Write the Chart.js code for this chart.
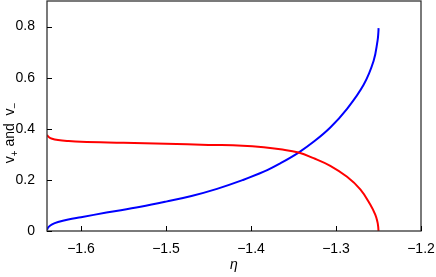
<!DOCTYPE html>
<html>
<head>
<meta charset="utf-8">
<script src="https://cdn.jsdelivr.net/npm/chart.js@4.4.1/dist/chart.umd.min.js"></script>
<style>
  html, body { margin: 0; padding: 0; background: #fff; }
  #wrap { width: 436px; height: 277px; }
</style>
</head>
<body>
<div id="wrap"><canvas id="chart" width="436" height="277"></canvas></div>
<script>
// data
const etaBlue = [-1.64, -1.638, -1.634, -1.627, -1.615, -1.6, -1.57, -1.53, -1.5, -1.47, -1.44, -1.41,
  -1.385, -1.3655, -1.344, -1.326, -1.3067, -1.287, -1.2675, -1.2558, -1.2511, -1.2502, -1.2499];
const vBlue = [0.005, 0.016, 0.026, 0.035, 0.045, 0.054, 0.072, 0.095, 0.115, 0.137, 0.165, 0.199,
  0.232, 0.265, 0.307, 0.35, 0.405, 0.478, 0.572, 0.665, 0.745, 0.775, 0.794];

const etaRed = [-1.64, -1.638, -1.634, -1.627, -1.615, -1.6, -1.55, -1.5, -1.45, -1.41, -1.385, -1.3655,
  -1.344, -1.3264, -1.3067, -1.287, -1.2714, -1.2597, -1.2538, -1.2513, -1.2504, -1.25];
const vRed = [0.376, 0.368, 0.361, 0.356, 0.352, 0.349, 0.345, 0.341, 0.337, 0.334, 0.328, 0.32,
  0.307, 0.285, 0.255, 0.212, 0.163, 0.104, 0.064, 0.036, 0.018, 0.0];

const xTicks = [-1.6, -1.5, -1.4, -1.3, -1.2];
const yTicks = [0, 0.2, 0.4, 0.6, 0.8];

const FONT = '"Liberation Sans", Arial, sans-serif';

function toPoints(xs, ys) {
  return xs.map((x, i) => ({ x: x, y: ys[i] }));
}

function fmt(v) {
  if (Math.abs(v) < 1e-9) return '0';
  const s = v.toFixed(1);
  return s.replace('-', '\u2212');
}

// frame, inward ticks and axis titles
const framePlugin = {
  id: 'frame',
  afterDraw(chart) {
    const ctx = chart.ctx;
    const a = chart.chartArea;
    const xs = chart.scales.x, ys = chart.scales.y;
    ctx.save();
    ctx.strokeStyle = '#333';
    ctx.lineWidth = 1.3;
    ctx.strokeRect(a.left, a.top, a.right - a.left, a.bottom - a.top);

    ctx.strokeStyle = '#000';
    ctx.lineWidth = 1;
    xTicks.forEach(t => {
      const px = Math.round(xs.getPixelForValue(t)) + 0.5;
      ctx.beginPath();
      ctx.moveTo(px, a.bottom);
      ctx.lineTo(px, a.bottom - 5);
      ctx.stroke();
    });
    yTicks.forEach(t => {
      const py = Math.round(ys.getPixelForValue(t)) + 0.5;
      ctx.beginPath();
      ctx.moveTo(a.left, py);
      ctx.lineTo(a.left + 5, py);
      ctx.stroke();
    });

    // x title
    ctx.fillStyle = '#000';
    ctx.font = 'italic 14px ' + FONT;
    ctx.textAlign = 'center';
    ctx.textBaseline = 'middle';
    ctx.fillText('\u03b7', (a.left + a.right) / 2, 265);

    // y title: v+ and v-
    ctx.translate(10, 133);
    ctx.rotate(-Math.PI / 2);
    ctx.textAlign = 'left';
    ctx.textBaseline = 'alphabetic';
    const parts = [
      ['v', 14, 0], ['+', 10, 4], [' and  ', 14, 0], ['v', 14, 0], ['\u2212', 10, 4]
    ];
    let w = 0;
    parts.forEach(p => { ctx.font = p[1] + 'px ' + FONT; w += ctx.measureText(p[0]).width; });
    let x0 = -w / 2;
    parts.forEach(p => {
      ctx.font = p[1] + 'px ' + FONT;
      ctx.fillText(p[0], x0, 4 + p[2]);
      x0 += ctx.measureText(p[0]).width;
    });
    ctx.restore();
  }
};

new Chart(document.getElementById('chart'), {
  type: 'scatter',
  data: {
    datasets: [
      {
        data: toPoints(etaRed, vRed),
        showLine: true,
        borderColor: '#ff0000',
        borderWidth: 2,
        pointRadius: 0,
        tension: 0.4
      },
      {
        data: toPoints(etaBlue, vBlue),
        showLine: true,
        borderColor: '#0000ff',
        borderWidth: 2,
        pointRadius: 0,
        tension: 0.4
      }
    ]
  },
  options: {
    responsive: false,
    animation: false,
    layout: { padding: { left: 0, right: 15, top: 1, bottom: 0 } },
    plugins: { legend: { display: false }, tooltip: { enabled: false } },
    scales: {
      x: {
        type: 'linear',
        min: -1.64,
        max: -1.2,
        grid: { display: false },
        border: { display: false },
        afterBuildTicks(scale) { scale.ticks = xTicks.map(v => ({ value: v })); },
        afterFit(scale) { scale.height = 46; scale.paddingLeft = 0; scale.paddingRight = 0; },
        ticks: {
          color: '#000',
          padding: 2,
          maxRotation: 0,
          font: { family: FONT, size: 14 },
          callback: v => fmt(v)
        }
      },
      y: {
        min: 0,
        max: 0.9,
        grid: { display: false },
        border: { display: false },
        afterBuildTicks(scale) { scale.ticks = yTicks.map(v => ({ value: v })); },
        afterFit(scale) { scale.width = 47; scale.paddingTop = 0; scale.paddingBottom = 0; },
        ticks: {
          color: '#000',
          padding: 4,
          font: { family: FONT, size: 14 },
          callback: v => fmt(v)
        }
      }
    }
  },
  plugins: [framePlugin]
});
</script>
</body>
</html>
